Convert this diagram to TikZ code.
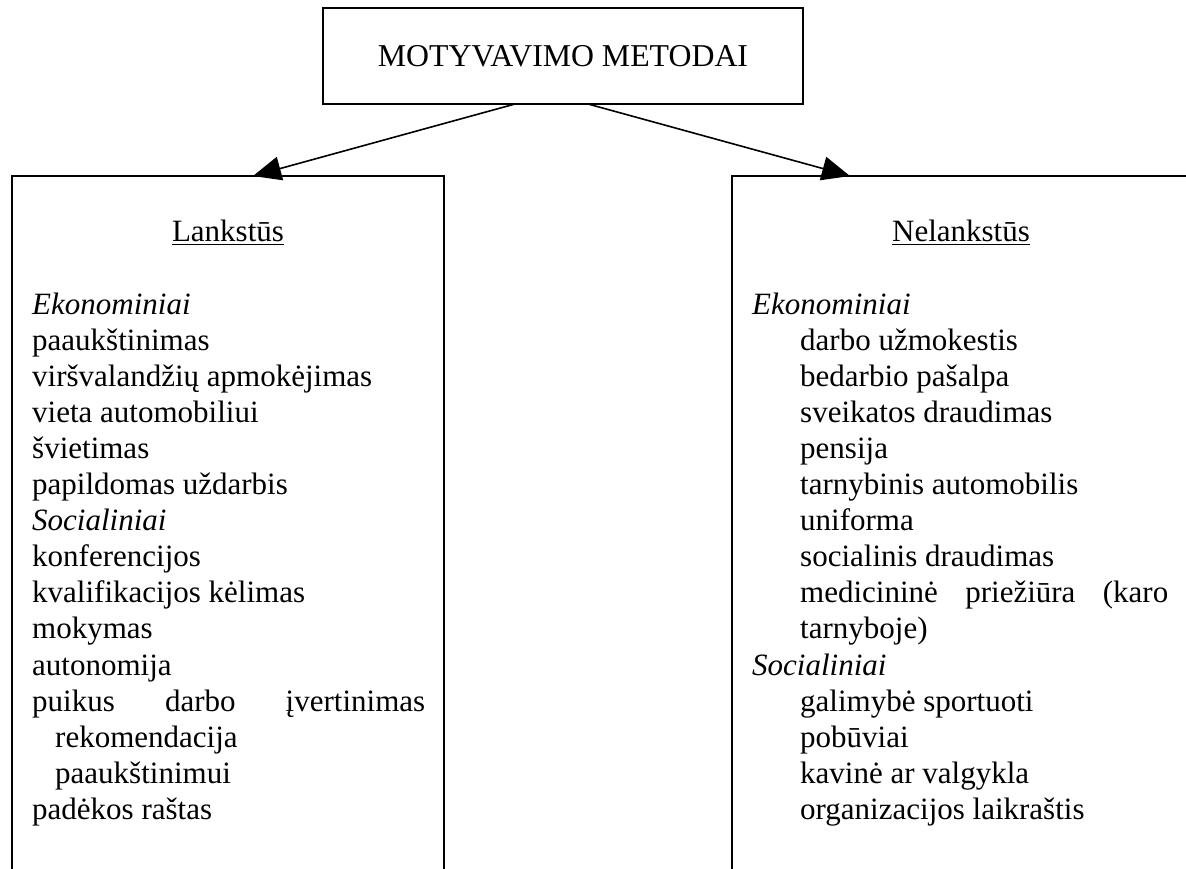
\documentclass[tikz,border=0pt]{standalone}
\usepackage{fontspec}
\setmainfont{Liberation Serif}
\usetikzlibrary{arrows.meta,calc}
\tikzset{
  box/.style={draw, line width=1.6pt, inner sep=0pt, outer sep=0pt, anchor=north west},
  arr/.style={line width=1.6pt, -{Triangle[length=28pt,width=24pt]}},
  txt/.style={inner sep=0pt, anchor=base west, font=\fontsize{31pt}{36pt}\selectfont},
  hd/.style={inner sep=0pt, anchor=base, font=\fontsize{31pt}{36pt}\selectfont},
}
\begin{document}
\begin{tikzpicture}[x=1pt,y=-1pt]
\useasboundingbox (0,0) rectangle (1186,869);
\clip (0,0) rectangle (1186,869);
\node[draw, line width=1.6pt, outer sep=0pt, inner sep=0pt, minimum width=480pt, minimum height=96pt,
      font=\fontsize{31.8pt}{36pt}\selectfont] (top) at (563,56) {MOTYVAVIMO METODAI};
\node[box, minimum width=432pt, minimum height=740pt] (lbox) at (12,176) {};
\node[box, minimum width=480pt, minimum height=740pt] (rbox) at (732,176) {};
\node[hd] (lh) at (228,242) {\underline{Lankstūs}};
\node[hd] (rh) at (961,242) {\underline{Nelankstūs}};
\foreach \t/\xx [count=\i from 0] in {
  {\textit{Ekonominiai}}/32,
  {paaukštinimas}/32,
  {viršvalandžių apmokėjimas}/32,
  {vieta automobiliui}/32,
  {švietimas}/32,
  {papildomas uždarbis}/32,
  {\textit{Socialiniai}}/32,
  {konferencijos}/32,
  {kvalifikacijos kėlimas}/32,
  {mokymas}/32,
  {autonomija}/32,
  {\makebox[393pt][s]{puikus darbo įvertinimas}}/32,
  {rekomendacija}/55,
  {paaukštinimui}/55,
  {padėkos raštas}/32}
  \node[txt] (l\i) at (\xx,{314+36.1*\i}) {\t};
\foreach \t/\xx [count=\i from 0] in {
  {\textit{Ekonominiai}}/752,
  {darbo užmokestis}/800,
  {bedarbio pašalpa}/800,
  {sveikatos draudimas}/800,
  {pensija}/800,
  {tarnybinis automobilis}/800,
  {uniforma}/800,
  {socialinis draudimas}/800,
  {\makebox[368pt][s]{medicininė priežiūra (karo}}/800,
  {tarnyboje)}/800,
  {\textit{Socialiniai}}/752,
  {galimybė sportuoti}/800,
  {pobūviai}/800,
  {kavinė ar valgykla}/800,
  {organizacijos laikraštis}/800}
  \node[txt] (r\i) at (\xx,{314+36.1*\i}) {\t};
\draw[arr] ($(top.south west)+(192,0)$) -- ($(lbox.north west)+(241,0)$);
\draw[arr] ($(top.south west)+(265,0)$) -- ($(rbox.north west)+(118,0)$);
\end{tikzpicture}
\end{document}
